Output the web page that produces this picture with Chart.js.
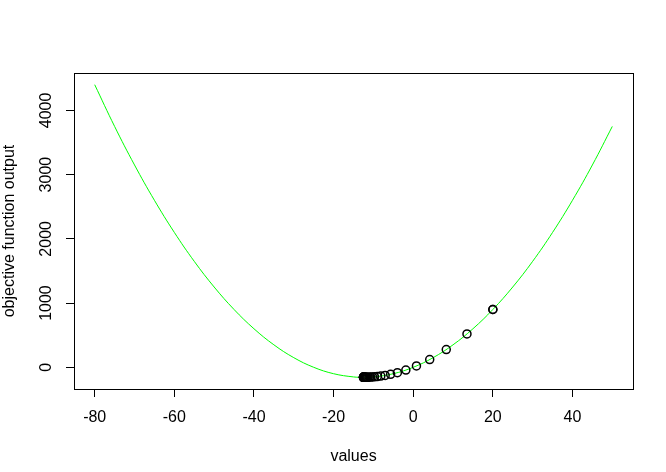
<!DOCTYPE html>
<html>
<head>
<meta charset="utf-8">
<script src="https://cdn.jsdelivr.net/npm/chart.js@4"></script>
<style>
  body { margin: 0; background: #fff; }
</style>
</head>
<body>
<canvas id="plot" width="666" height="472"></canvas>
<script>
// objective function curve
var curveX = [-80, -75, -70, -65, -60, -55, -50, -45, -40, -35, -30, -25, -20, -15, -12.5, -10, -5, 0, 5, 10, 15, 20, 25, 30, 35, 40, 45, 50];
var curveY = [4400, 3750, 3150, 2600, 2100, 1650, 1250, 900, 600, 350, 150, 0, -100, -150, -156, -150, -100, 0, 150, 350, 600, 900, 1250, 1650, 2100, 2600, 3150, 3750];

// descent steps (circles)
var stepX = [20, 20, 13.5, 8.3, 4.14, 0.81, -1.85, -3.98, -5.68, -7.05, -8.14, -9.01, -9.71, -10.27, -10.71, -11.07, -11.36, -11.59, -11.77, -11.92, -12.03, -12.13, -12.2, -12.26, -12.31, -12.35, -12.38, -12.4, -12.42, -12.44, -12.45, -12.46, -12.47, -12.47, -12.48, -12.48, -12.49, -12.49, -12.49, -12.5];
var stepY = [900, 900, 519.8, 276.4, 120.6, 21, -42.8, -83.7, -109.8, -126.5, -137.2, -144.1, -148.5, -151.3, -153.1, -154.2, -154.9, -155.4, -155.7, -155.9, -156, -156.1, -156.2, -156.2, -156.2, -156.2, -156.2, -156.2, -156.2, -156.2, -156.2, -156.2, -156.2, -156.2, -156.2, -156.2, -156.2, -156.2, -156.2, -156.2];

var xTicks = [-80, -60, -40, -20, 0, 20, 40];
var yTicks = [0, 1000, 2000, 3000, 4000];

var font = '16px "Liberation Sans", Arial, sans-serif';

function toPoints(xs, ys) {
    return xs.map(function(x, i) { return {x: x, y: ys[i]}; });
}

// R-style box, labels and titles
var rLook = {
    id: 'rLook',
    afterDraw: function(chart) {
        var ctx = chart.ctx;
        var a = chart.chartArea;
        var xs = chart.scales.x, ys = chart.scales.y;
        ctx.save();
        ctx.strokeStyle = '#000';
        ctx.lineWidth = 1;
        ctx.strokeRect(Math.round(a.left) + 0.5, Math.round(a.top) + 0.5,
            Math.round(a.right - a.left), Math.round(a.bottom - a.top));

        ctx.fillStyle = '#000';
        ctx.font = font;
        ctx.textAlign = 'center';
        ctx.textBaseline = 'middle';
        xTicks.forEach(function(v) {
            ctx.fillText(String(v), xs.getPixelForValue(v), 418);
        });
        ctx.fillText('values', (a.left + a.right) / 2, 457);

        yTicks.forEach(function(v) {
            ctx.save();
            ctx.translate(47, ys.getPixelForValue(v));
            ctx.rotate(-Math.PI / 2);
            ctx.fillText(String(v), 0, 0);
            ctx.restore();
        });
        ctx.save();
        ctx.translate(10, (a.top + a.bottom) / 2);
        ctx.rotate(-Math.PI / 2);
        ctx.fillText('objective function output', 0, 0);
        ctx.restore();
        ctx.restore();
    }
};

new Chart(document.getElementById('plot'), {
    type: 'scatter',
    data: {
        datasets: [
            {
                type: 'line',
                data: toPoints(curveX, curveY),
                borderColor: '#00ff00',
                borderWidth: 1,
                pointRadius: 0,
                tension: 0.4,
                fill: false,
                order: 2
            },
            {
                data: toPoints(stepX, stepY),
                pointRadius: 4,
                pointBorderWidth: 1.5,
                pointBorderColor: '#000',
                pointBackgroundColor: 'rgba(0,0,0,0)',
                order: 1
            }
        ]
    },
    options: {
        responsive: false,
        animation: false,
        layout: { padding: { top: 73, right: 33, left: 0, bottom: 0 } },
        plugins: { legend: { display: false }, tooltip: { enabled: false } },
        scales: {
            x: {
                type: 'linear',
                min: -85.2,
                max: 55.2,
                afterBuildTicks: function(s) { s.ticks = xTicks.map(function(v) { return {value: v}; }); },
                afterFit: function(s) { s.height = 83; },
                ticks: { display: false },
                grid: { drawOnChartArea: false, drawTicks: true, tickLength: 8, color: '#000' },
                border: { display: true, color: '#000' }
            },
            y: {
                type: 'linear',
                min: -338,
                max: 4582,
                afterBuildTicks: function(s) { s.ticks = yTicks.map(function(v) { return {value: v}; }); },
                afterFit: function(s) { s.width = 74; },
                ticks: { display: false },
                grid: { drawOnChartArea: false, drawTicks: true, tickLength: 8, color: '#000' },
                border: { display: true, color: '#000' }
            }
        }
    },
    plugins: [rLook]
});
</script>
</body>
</html>
